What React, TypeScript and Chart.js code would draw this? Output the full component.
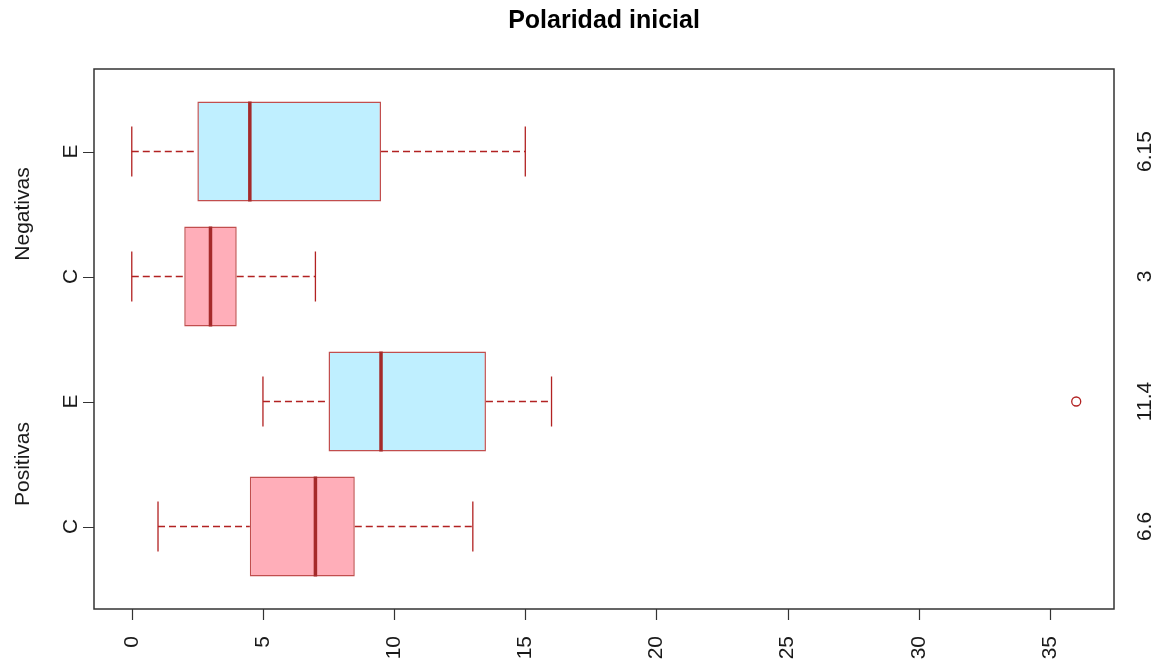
import React, { useEffect, useRef } from "react";
import { Chart, registerables } from "chart.js";

Chart.register(...registerables);

// ---- data (bottom to top) ----
const positions = [1, 2, 3, 4];
const boxLabels = ["C", "E", "C", "E"];
const groupLabels = ["Positivas", "Negativas"];
const groupCenters = [1.5, 3.5];
const whiskerLow = [1, 5, 0, 0];
const q1 = [4.5, 7.5, 2, 2.5];
const median = [7, 9.5, 3, 4.5];
const q3 = [8.5, 13.5, 4, 9.5];
const whiskerHigh = [13, 16, 7, 15];
const meanLabels = ["6.6", "11.4", "3", "6.15"];
const outlierPos = [2];
const outlierVal = [36];
const xTicks = [0, 5, 10, 15, 20, 25, 30, 35];
const title = "Polaridad inicial";

const PINK = "#FFAEB9";
const BLUE = "#BFEFFF";
const BOX_BORDER = "rgba(178,34,34,0.8)";
const WHISKER = "#B22222";
const MEDIAN = "#A52A2A";
const TEXT = "#1a1a1a";
const AXIS = "#333333";
const FONT = '"Liberation Sans", Arial, sans-serif';

const boxPlugin = {
  id: "boxplotExtras",
  afterDatasetsDraw(chart: any) {
    const ctx = chart.ctx;
    const xs = chart.scales.x;
    const ys = chart.scales.y;
    const meta = chart.getDatasetMeta(0);
    ctx.save();
    positions.forEach((p, i) => {
      const el = meta.data[i];
      const h = el.getProps(["height"], true).height;
      const yc = ys.getPixelForValue(p);
      // whiskers (dashed)
      ctx.strokeStyle = WHISKER;
      ctx.lineWidth = 1.3;
      ctx.setLineDash([7, 4]);
      ctx.beginPath();
      ctx.moveTo(xs.getPixelForValue(whiskerLow[i]), yc);
      ctx.lineTo(xs.getPixelForValue(q1[i]), yc);
      ctx.moveTo(xs.getPixelForValue(q3[i]), yc);
      ctx.lineTo(xs.getPixelForValue(whiskerHigh[i]), yc);
      ctx.stroke();
      // caps
      ctx.setLineDash([]);
      ctx.beginPath();
      [whiskerLow[i], whiskerHigh[i]].forEach((v) => {
        const px = xs.getPixelForValue(v);
        ctx.moveTo(px, yc - h / 4);
        ctx.lineTo(px, yc + h / 4);
      });
      ctx.stroke();
      // median
      ctx.strokeStyle = MEDIAN;
      ctx.lineWidth = 3.5;
      ctx.beginPath();
      const mx = xs.getPixelForValue(median[i]);
      ctx.moveTo(mx, yc - h / 2);
      ctx.lineTo(mx, yc + h / 2);
      ctx.stroke();
    });
    ctx.restore();
  },
  afterDraw(chart: any) {
    const ctx = chart.ctx;
    const xs = chart.scales.x;
    const ys = chart.scales.y;
    const a = chart.chartArea;
    ctx.save();
    // frame
    ctx.strokeStyle = AXIS;
    ctx.lineWidth = 1.5;
    ctx.strokeRect(a.left, a.top, a.right - a.left, a.bottom - a.top);
    // ticks
    ctx.lineWidth = 1.2;
    ctx.beginPath();
    xTicks.forEach((v) => {
      const px = Math.round(xs.getPixelForValue(v)) + 0.5;
      ctx.moveTo(px, a.bottom);
      ctx.lineTo(px, a.bottom + 11);
    });
    positions.forEach((p) => {
      const py = Math.round(ys.getPixelForValue(p)) + 0.5;
      ctx.moveTo(a.left, py);
      ctx.lineTo(a.left - 11, py);
    });
    ctx.stroke();

    ctx.fillStyle = TEXT;
    ctx.font = `21px ${FONT}`;
    // bottom tick labels (rotated)
    xTicks.forEach((v) => {
      const px = xs.getPixelForValue(v);
      ctx.save();
      ctx.translate(px, a.bottom + 27);
      ctx.rotate(-Math.PI / 2);
      ctx.textAlign = "right";
      ctx.textBaseline = "middle";
      ctx.fillText(String(v), 0, 0);
      ctx.restore();
    });
    // left tick labels
    positions.forEach((p, i) => {
      const py = ys.getPixelForValue(p);
      ctx.save();
      ctx.translate(a.left - 17, py);
      ctx.rotate(-Math.PI / 2);
      ctx.textAlign = "center";
      ctx.textBaseline = "alphabetic";
      ctx.fillText(boxLabels[i], 0, 0);
      ctx.restore();
    });
    // group labels
    groupLabels.forEach((g, i) => {
      const py = ys.getPixelForValue(groupCenters[i]);
      ctx.save();
      ctx.translate(29, py);
      ctx.rotate(-Math.PI / 2);
      ctx.textAlign = "center";
      ctx.textBaseline = "alphabetic";
      ctx.fillText(g, 0, 0);
      ctx.restore();
    });
    // right labels (means)
    positions.forEach((p, i) => {
      const py = ys.getPixelForValue(p);
      ctx.save();
      ctx.translate(a.right + 37, py);
      ctx.rotate(-Math.PI / 2);
      ctx.textAlign = "center";
      ctx.textBaseline = "alphabetic";
      ctx.fillText(meanLabels[i], 0, 0);
      ctx.restore();
    });
    // title
    ctx.font = `bold 25px ${FONT}`;
    ctx.textAlign = "center";
    ctx.textBaseline = "alphabetic";
    ctx.fillStyle = "#000";
    ctx.fillText(title, (a.left + a.right) / 2, 28);
    ctx.restore();
  },
};

export default function App() {
  const ref = useRef<HTMLCanvasElement | null>(null);
  useEffect(() => {
    if (!ref.current) return;
    const chart = new Chart(ref.current, {
      type: "bar",
      data: {
        datasets: [
          {
            type: "bar",
            indexAxis: "y",
            data: positions.map((p, i) => ({ x: [q1[i], q3[i]], y: p })),
            backgroundColor: boxLabels.map((l) => (l === "C" ? PINK : BLUE)),
            borderColor: BOX_BORDER,
            borderWidth: 1.5,
            borderSkipped: false,
            categoryPercentage: 0.8,
            barPercentage: 1,
          } as any,
          {
            type: "scatter",
            data: outlierVal.map((v, i) => ({ x: v, y: outlierPos[i] })),
            pointRadius: 4.5,
            pointBorderColor: WHISKER,
            pointBackgroundColor: "rgba(0,0,0,0)",
            pointBorderWidth: 1.3,
          } as any,
        ],
      },
      options: {
        indexAxis: "y",
        animation: false,
        responsive: false,
        devicePixelRatio: 1,
        layout: { padding: { left: 94, right: 43, top: 69, bottom: 53 } },
        scales: {
          x: {
            type: "linear",
            min: -1.44,
            max: 37.44,
            offset: false,
            bounds: "data",
            display: false,
            afterBuildTicks: (s: any) => {
              s.ticks = xTicks.map((v) => ({ value: v }));
            },
          },
          y: {
            type: "linear",
            min: 0.34,
            max: 4.66,
            offset: false,
            bounds: "data",
            display: false,
            afterBuildTicks: (s: any) => {
              s.ticks = positions.map((v) => ({ value: v }));
            },
          },
        },
        plugins: {
          legend: { display: false },
          tooltip: { enabled: false },
          title: { display: false },
        },
      } as any,
      plugins: [boxPlugin],
    });
    return () => chart.destroy();
  }, []);
  return (
    <div style={{ position: "absolute", left: 0, top: 0, width: 1157, height: 662, background: "#fff" }}>
      <canvas ref={ref} width={1157} height={662} style={{ display: "block" }} />
    </div>
  );
}
